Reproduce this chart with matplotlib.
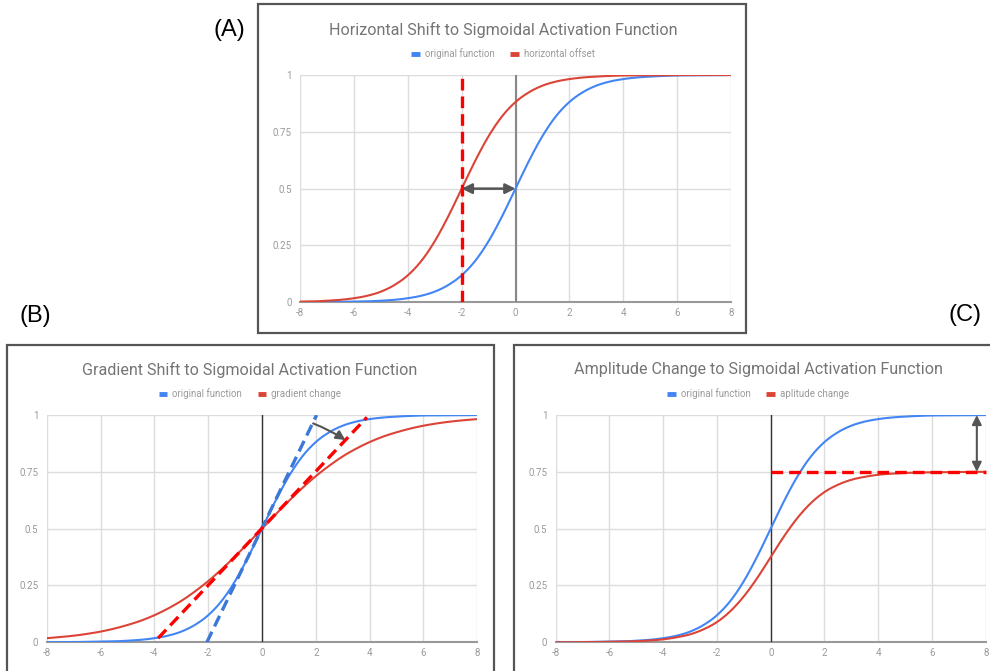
import numpy as np
import matplotlib
matplotlib.use("Agg")
import matplotlib.pyplot as plt
from matplotlib.lines import Line2D
from matplotlib.patches import Rectangle

W, H = 990, 671
plt.rcParams['font.family'] = ['Roboto', 'DejaVu Sans']

# ---------------- data ----------------
x_vals = [-8, -7.5, -7, -6.5, -6, -5.5, -5, -4.5, -4, -3.5, -3, -2.5, -2, -1.5, -1, -0.5,
          0, 0.5, 1, 1.5, 2, 2.5, 3, 3.5, 4, 4.5, 5, 5.5, 6, 6.5, 7, 7.5, 8]
original = [0.000, 0.001, 0.001, 0.002, 0.003, 0.004, 0.007, 0.011, 0.018, 0.029, 0.047,
            0.076, 0.119, 0.182, 0.269, 0.378, 0.500, 0.622, 0.731, 0.818, 0.881, 0.924,
            0.953, 0.971, 0.982, 0.989, 0.993, 0.996, 0.998, 0.998, 0.999, 0.999, 1.000]
horizontal_offset = [0.003, 0.004, 0.007, 0.011, 0.018, 0.029, 0.047, 0.076, 0.119, 0.182,
                     0.269, 0.378, 0.500, 0.622, 0.731, 0.818, 0.881, 0.924, 0.953, 0.971,
                     0.982, 0.989, 0.993, 0.996, 0.998, 0.998, 0.999, 0.999, 1.000, 1.000,
                     1.000, 1.000, 1.000]
gradient_change = [0.018, 0.023, 0.029, 0.037, 0.047, 0.060, 0.076, 0.095, 0.119, 0.148,
                   0.182, 0.223, 0.269, 0.321, 0.378, 0.438, 0.500, 0.562, 0.622, 0.679,
                   0.731, 0.777, 0.818, 0.852, 0.881, 0.905, 0.924, 0.940, 0.953, 0.963,
                   0.971, 0.977, 0.982]
amplitude_change = [0.000, 0.000, 0.001, 0.001, 0.002, 0.003, 0.005, 0.008, 0.013, 0.022,
                    0.035, 0.057, 0.089, 0.137, 0.202, 0.283, 0.375, 0.467, 0.548, 0.613,
                    0.661, 0.693, 0.715, 0.728, 0.737, 0.742, 0.745, 0.747, 0.748, 0.749,
                    0.749, 0.750, 0.750]

x_ticks = [-8, -6, -4, -2, 0, 2, 4, 6, 8]
x_tick_labels = ["-8", "-6", "-4", "-2", "0", "2", "4", "6", "8"]
y_ticks = [0, 0.25, 0.5, 0.75, 1]
y_tick_labels = ["0", "0.25", "0.5", "0.75", "1"]

# annotation values
shift_x = -2
grad_tangent_orig = ([-2.05, 2.03], [0.0, 1.0])
grad_tangent_new = ([-3.86, 3.9], [0.018, 0.99])
grad_arrow = ((1.9, 0.963), (3.1, 0.89))
amp_level = 0.75
amp_arrow_x = 7.67

BLUE = "#4285F4"
RED = "#DB4437"
GRID = "#dcdcdc"
TICK = "#9a9a9a"
TITLE = "#757575"

fig = plt.figure(figsize=(W / 100, H / 100), dpi=100)


def smooth(xs, ys, n=12):
    """Catmull-Rom curve through the data points (like a 'smooth' line chart)."""
    x = np.asarray(xs, float)
    y = np.asarray(ys, float)
    px = np.concatenate([[2 * x[0] - x[1]], x, [2 * x[-1] - x[-2]]])
    py = np.concatenate([[2 * y[0] - y[1]], y, [2 * y[-1] - y[-2]]])
    t = np.linspace(0, 1, n, endpoint=False)
    ox, oy = [], []
    for i in range(1, len(px) - 2):
        for P, out in ((px, ox), (py, oy)):
            p0, p1, p2, p3 = P[i - 1], P[i], P[i + 1], P[i + 2]
            out.append(0.5 * (2 * p1 + (-p0 + p2) * t + (2 * p0 - 5 * p1 + 4 * p2 - p3) * t ** 2
                              + (-p0 + 3 * p1 - 3 * p2 + p3) * t ** 3))
    ox.append([x[-1]])
    oy.append([y[-1]])
    return np.concatenate(ox), np.concatenate(oy)


def px_axes(l, t, r, b):
    return fig.add_axes([l / W, 1 - b / H, (r - l) / W, (b - t) / H])


def style_axes(ax, zero_color, zero_lw):
    ax.set_xlim(-8, 8)
    ax.set_ylim(0, 1)
    ax.set_xticks(x_ticks)
    ax.set_xticklabels(x_tick_labels)
    ax.set_yticks(y_ticks)
    ax.set_yticklabels(y_tick_labels)
    for s in ax.spines.values():
        s.set_visible(False)
    ax.tick_params(length=0, labelsize=7, labelcolor=TICK)
    ax.tick_params(axis='y', pad=6)
    ax.tick_params(axis='x', pad=4)
    ax.grid(True, color=GRID, lw=1)
    ax.set_axisbelow(True)
    ax.axhline(0, color="#999999", lw=1.5, zorder=1.5, clip_on=False)
    ax.axvline(0, color=zero_color, lw=zero_lw, zorder=1.5)
    ax.patch.set_alpha(0)


def box(l, t, r, b):
    fig.patches.append(Rectangle((l / W, 1 - b / H), (r - l) / W, (b - t) / H,
                                 transform=fig.transFigure, fill=False,
                                 edgecolor="#555555", lw=1.6))


def title_legend(cx, ty, text, labels):
    fig.text(cx / W, 1 - ty / H, text, ha='center', va='center', fontsize=11.6, color=TITLE)
    handles = [Line2D([], [], color=BLUE, lw=3.5, solid_capstyle='butt'),
               Line2D([], [], color=RED, lw=3.5, solid_capstyle='butt')]
    fig.legend(handles, labels, loc='center', bbox_to_anchor=(cx / W, 1 - (ty + 24) / H),
               ncol=2, frameon=False, fontsize=7, labelcolor=TICK, handlelength=0.9,
               handletextpad=0.5, columnspacing=1.6)


def curve(ax, ys, color):
    sx, sy = smooth(x_vals, ys)
    ax.plot(sx, sy, color=color, lw=1.5, zorder=3, solid_capstyle='round')


DASH = dict(lw=2.4, dashes=(3.5, 1.8), zorder=4)

# ---------------- Panel A ----------------
box(258, 4, 746, 333)
axA = px_axes(300.3, 75, 730.7, 302.3)
style_axes(axA, "#888888", 1.5)
curve(axA, original, BLUE)
curve(axA, horizontal_offset, RED)
axA.plot([shift_x, shift_x], [0, 1], color="#ff0000", **DASH)
axA.annotate("", xy=(0, 0.5), xytext=(shift_x, 0.5),
             arrowprops=dict(arrowstyle='<|-|>', color="#555555", lw=1.8,
                             mutation_scale=15, shrinkA=0, shrinkB=0), zorder=5)
title_legend(503, 30, "Horizontal Shift to Sigmoidal Activation Function",
             ["original function", "horizontal offset"])

# ---------------- Panel B ----------------
box(7, 345, 494, 700)
axB = px_axes(46.7, 415, 477.3, 642.3)
style_axes(axB, "#333333", 1.0)
curve(axB, original, BLUE)
curve(axB, gradient_change, RED)
axB.plot(*grad_tangent_orig, color="#3C78D8", **DASH)
axB.plot(*grad_tangent_new, color="#ff0000", **DASH)
axB.annotate("", xy=grad_arrow[1], xytext=grad_arrow[0],
             arrowprops=dict(arrowstyle='-|>', color="#555555", lw=1.5,
                             mutation_scale=14, shrinkA=0, shrinkB=0,
                             connectionstyle="arc3,rad=-0.05"), zorder=5)
title_legend(250, 370, "Gradient Shift to Sigmoidal Activation Function",
             ["original function", "gradient change"])

# ---------------- Panel C ----------------
box(514, 345, 1000, 700)
axC = px_axes(555.7, 415, 985.7, 642.3)
style_axes(axC, "#333333", 1.0)
curve(axC, original, BLUE)
curve(axC, amplitude_change, RED)
axC.plot([0, 8], [amp_level, amp_level], color="#ff0000", clip_on=False, **DASH)
axC.annotate("", xy=(amp_arrow_x, 1.0), xytext=(amp_arrow_x, amp_level),
             arrowprops=dict(arrowstyle='<|-|>', color="#555555", lw=1.5,
                             mutation_scale=14, shrinkA=0, shrinkB=0), zorder=5)
title_legend(758, 370, "Amplitude Change to Sigmoidal Activation Function",
             ["original function", "aplitude change"])

# panel labels
for lbl, cx, cy in [("(A)", 229, 30), ("(B)", 35, 316), ("(C)", 965, 315)]:
    fig.text(cx / W, 1 - cy / H, lbl, ha='center', va='center', fontsize=17,
             color='black', family=['Liberation Sans', 'DejaVu Sans'])

fig.savefig("out.png", dpi=100, facecolor='white')
